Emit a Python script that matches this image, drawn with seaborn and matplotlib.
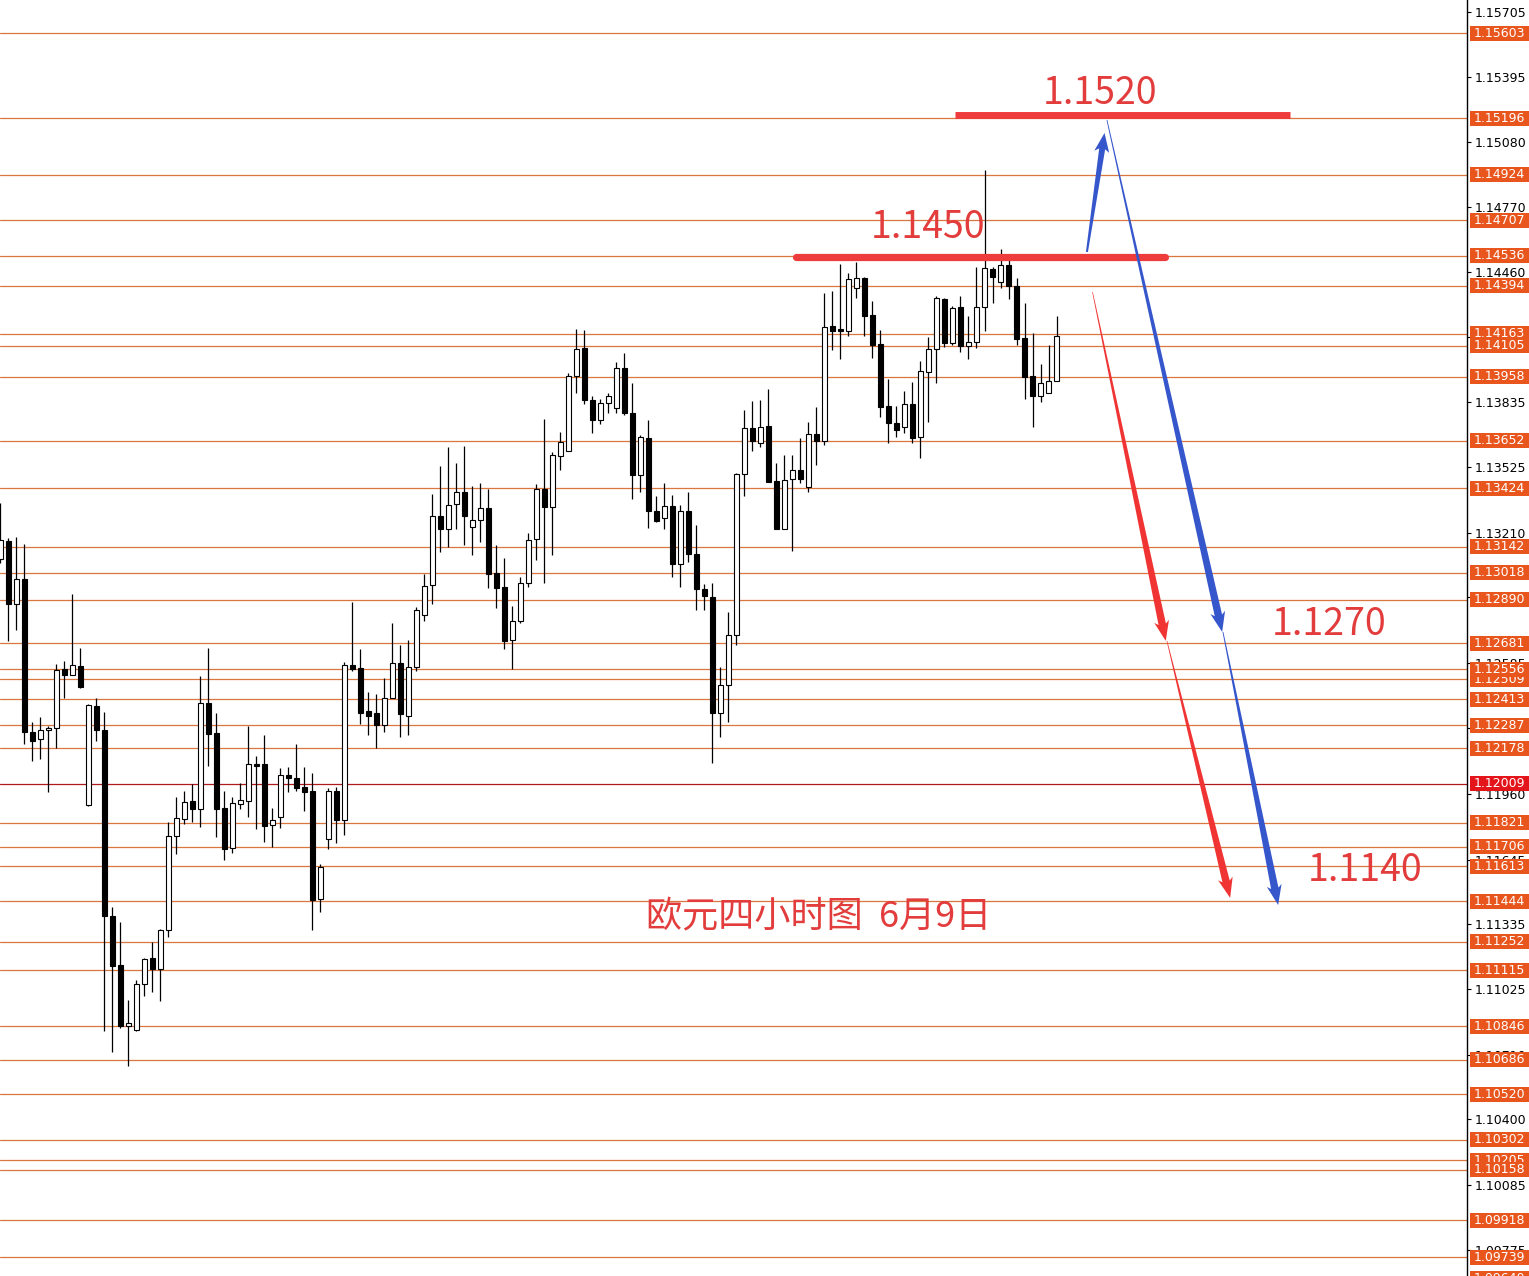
import numpy as np
import matplotlib
matplotlib.use("Agg")
import matplotlib.pyplot as plt
import seaborn as sns
from matplotlib.patches import Rectangle, Polygon
from matplotlib.transforms import blended_transform_factory

# ---------------- data (EUR/USD 4H candles) ----------------
opens = [1.13084, 1.13171, 1.12869, 1.12989, 1.12256, 1.12222, 1.12265, 1.12275, 1.12558, 1.12529,
         1.12572, 1.11906, 1.12380, 1.12265, 1.11374, 1.11139, 1.10847, 1.10828, 1.11049, 1.11173,
         1.11120, 1.11307, 1.11758, 1.11839, 1.11925, 1.11887, 1.12395, 1.12251, 1.11892, 1.11700,
         1.11911, 1.11925, 1.12102, 1.12102, 1.11810, 1.11849, 1.12050, 1.12036, 1.11992, 1.11973,
         1.11456, 1.11743, 1.11973, 1.11834, 1.12577, 1.12562, 1.12356, 1.12347, 1.12289, 1.12419,
         1.12586, 1.12332, 1.12567, 1.12816, 1.12960, 1.13290, 1.13228, 1.13348, 1.13405, 1.13238,
         1.13271, 1.13329, 1.13017, 1.12950, 1.12696, 1.12787, 1.12970, 1.13180, 1.13420, 1.13334,
         1.13578, 1.13602, 1.13961, 1.14095, 1.13846, 1.13750, 1.13832, 1.13808, 1.13999, 1.13784,
         1.13487, 1.13664, 1.13314, 1.13281, 1.13338, 1.13060, 1.13314, 1.13108, 1.12941, 1.12902,
         1.12347, 1.12481, 1.12720, 1.13491, 1.13712, 1.13640, 1.13722, 1.13458, 1.13228, 1.13468,
         1.13511, 1.13429, 1.13683, 1.13650, 1.14200, 1.14181, 1.14177, 1.14383, 1.14430, 1.14253,
         1.14114, 1.13817, 1.13736, 1.13717, 1.13827, 1.13669, 1.13980, 1.14090, 1.14330, 1.14119,
         1.14291, 1.14105, 1.14124, 1.14291, 1.14474, 1.14411, 1.14493, 1.14392, 1.14143, 1.13961,
         1.13865, 1.13880, 1.13937]

highs = [1.13353, 1.13185, 1.13190, 1.13156, 1.12304, 1.12328, 1.12284, 1.12581, 1.12596, 1.12917,
         1.12658, 1.12390, 1.12419, 1.12352, 1.11417, 1.11346, 1.10972, 1.11068, 1.11173, 1.11250,
         1.11312, 1.11825, 1.11944, 1.11973, 1.12007, 1.12524, 1.12658, 1.12347, 1.11973, 1.11944,
         1.12011, 1.12284, 1.12141, 1.12241, 1.11892, 1.12084, 1.12088, 1.12198, 1.12088, 1.12060,
         1.11623, 1.11987, 1.11992, 1.12591, 1.12878, 1.12653, 1.12447, 1.12438, 1.12514, 1.12778,
         1.12673, 1.12696, 1.12855, 1.13012, 1.13396, 1.13530, 1.13621, 1.13544, 1.13626, 1.13434,
         1.13449, 1.13420, 1.13152, 1.13089, 1.12859, 1.12998, 1.13209, 1.13444, 1.13755, 1.13597,
         1.13693, 1.13975, 1.14186, 1.14181, 1.13865, 1.13851, 1.13880, 1.14028, 1.14071, 1.13927,
         1.13679, 1.13750, 1.13386, 1.13449, 1.13391, 1.13343, 1.13405, 1.13247, 1.12965, 1.12970,
         1.12567, 1.12830, 1.13496, 1.13798, 1.13841, 1.13846, 1.13899, 1.13544, 1.13583, 1.13583,
         1.13664, 1.13741, 1.13813, 1.14359, 1.14368, 1.14498, 1.14455, 1.14507, 1.14435, 1.14320,
         1.14181, 1.13946, 1.13817, 1.13889, 1.13932, 1.14033, 1.14148, 1.14344, 1.14335, 1.14296,
         1.14344, 1.14248, 1.14483, 1.14948, 1.14483, 1.14569, 1.14517, 1.14430, 1.14311, 1.14167,
         1.14018, 1.14109, 1.14248]

lows = [1.13065, 1.12692, 1.12744, 1.12198, 1.12117, 1.12126, 1.11968, 1.12179, 1.12419, 1.12529,
        1.12466, 1.11901, 1.12213, 1.10824, 1.10723, 1.10838, 1.10656, 1.10824, 1.10991, 1.11010,
        1.10967, 1.11274, 1.11671, 1.11815, 1.11825, 1.11801, 1.12093, 1.11753, 1.11643, 1.11676,
        1.11887, 1.11849, 1.11791, 1.11729, 1.11705, 1.11796, 1.11968, 1.11973, 1.11877, 1.11307,
        1.11393, 1.11695, 1.11724, 1.11762, 1.12548, 1.12294, 1.12241, 1.12179, 1.12256, 1.12419,
        1.12232, 1.12241, 1.12548, 1.12787, 1.12869, 1.13118, 1.13142, 1.13228, 1.13152, 1.13104,
        1.13166, 1.12946, 1.12850, 1.12653, 1.12558, 1.12778, 1.12950, 1.13079, 1.12970, 1.13104,
        1.13511, 1.13602, 1.13880, 1.13827, 1.13688, 1.13731, 1.13784, 1.13784, 1.13774, 1.13372,
        1.13405, 1.13233, 1.13262, 1.13228, 1.12998, 1.12950, 1.13070, 1.12840, 1.12840, 1.12107,
        1.12232, 1.12304, 1.12673, 1.13386, 1.13602, 1.13621, 1.13453, 1.13228, 1.13228, 1.13123,
        1.13449, 1.13405, 1.13535, 1.13631, 1.14086, 1.14042, 1.14152, 1.14335, 1.14152, 1.14047,
        1.13765, 1.13640, 1.13669, 1.13688, 1.13640, 1.13568, 1.13741, 1.13927, 1.14100, 1.14109,
        1.14076, 1.14042, 1.14095, 1.14177, 1.14311, 1.14383, 1.14330, 1.14109, 1.13851, 1.13717,
        1.13837, 1.13880, 1.13937]

closes = [1.13175, 1.12869, 1.12989, 1.12256, 1.12213, 1.12265, 1.12275, 1.12553, 1.12529, 1.12577,
          1.12471, 1.12385, 1.12265, 1.11374, 1.11135, 1.10847, 1.10862, 1.11049, 1.11168, 1.11120,
          1.11307, 1.11758, 1.11844, 1.11920, 1.11887, 1.12395, 1.12246, 1.11887, 1.11695, 1.11916,
          1.11930, 1.12102, 1.12093, 1.11806, 1.11834, 1.12050, 1.12036, 1.11987, 1.11968, 1.11451,
          1.11609, 1.11973, 1.11834, 1.12577, 1.12558, 1.12347, 1.12332, 1.12289, 1.12419, 1.12586,
          1.12342, 1.12567, 1.12840, 1.12955, 1.13290, 1.13228, 1.13343, 1.13405, 1.13290, 1.13271,
          1.13329, 1.13012, 1.12946, 1.12692, 1.12787, 1.12970, 1.13175, 1.13420, 1.13334, 1.13583,
          1.13645, 1.13961, 1.14090, 1.13846, 1.13750, 1.13832, 1.13865, 1.13999, 1.13784, 1.13487,
          1.13669, 1.13314, 1.13266, 1.13338, 1.13060, 1.13314, 1.13108, 1.12941, 1.12907, 1.12347,
          1.12481, 1.12720, 1.13491, 1.13712, 1.13650, 1.13717, 1.13453, 1.13228, 1.13463, 1.13511,
          1.13468, 1.13683, 1.13650, 1.14196, 1.14177, 1.14177, 1.14426, 1.14430, 1.14248, 1.14109,
          1.13813, 1.13736, 1.13702, 1.13827, 1.13664, 1.13985, 1.14090, 1.14335, 1.14119, 1.14287,
          1.14105, 1.14124, 1.14291, 1.14478, 1.14435, 1.14493, 1.14392, 1.14138, 1.13956, 1.13865,
          1.13927, 1.13937, 1.14152]

# horizontal price levels with orange labels (drawing order)
level_prices = [1.15603, 1.15196, 1.14924, 1.14707, 1.14536, 1.14394, 1.14163, 1.14105, 1.13958,
                1.13652, 1.13424, 1.13142, 1.13018, 1.12890, 1.12681, 1.12509, 1.12556, 1.12413,
                1.12287, 1.12178, 1.12009, 1.11821, 1.11706, 1.11613, 1.11444, 1.11252, 1.11115,
                1.10846, 1.10686, 1.10520, 1.10302, 1.10205, 1.10158, 1.09918, 1.09739, 1.09640]
highlight_level = 1.12009

axis_ticks = [1.15705, 1.15395, 1.15080, 1.14770, 1.14460, 1.14150, 1.13835, 1.13525, 1.13210,
              1.12900, 1.12585, 1.12275, 1.11960, 1.11645, 1.11335, 1.11025, 1.10710, 1.10400,
              1.10085, 1.09775]

# analyst annotations
resistance_levels = [1.1521, 1.1453]
resistance_labels = ["1.1520", "1.1450"]
target_labels = ["1.1270", "1.1140"]
target_prices = [1.1277, 1.1159]
title_text = "欧元四小时图  6月9日"

# ---------------- figure ----------------
sns.set_theme(style="white")
plt.rcParams["font.family"] = ["Noto Sans CJK SC", "DejaVu Sans"]

W, H = 1529, 1276
fig = plt.figure(figsize=(W / 100, H / 100), dpi=100)
fig.patch.set_facecolor("white")
ax = fig.add_axes([0, 0, 1467 / W, 1])
ax.set_facecolor("white")

n = len(opens)
xs = np.arange(n)
ax.set_xlim(-0.0375, 183.3)
ax.set_ylim(1.09650, 1.15762)

# price level lines
for p in level_prices:
    col = "#B01A1A" if p == highlight_level else "#D9773F"
    ax.axhline(p, color=col, lw=0.9, zorder=1)

# candles
body_w = 0.64
ax.vlines(xs, lows, highs, color="black", lw=0.9, zorder=3)
min_h = 1.6 * 0.0000479
for i in range(n):
    o, c = opens[i], closes[i]
    up = c >= o
    bottom = min(o, c)
    h = max(abs(c - o), min_h)
    ax.add_patch(Rectangle((xs[i] - body_w / 2, bottom), body_w, h,
                           facecolor="white" if up else "black",
                           edgecolor="black", lw=0.8, zorder=4))

# right axis
for s in ["left", "top", "bottom"]:
    ax.spines[s].set_visible(False)
ax.spines["right"].set_color("black")
ax.spines["right"].set_linewidth(1.0)
ax.set_xticks([])
ax.yaxis.tick_right()
ax.set_yticks(axis_ticks)
ax.set_yticklabels([f"{t:.5f}" for t in axis_ticks], fontfamily="DejaVu Sans", fontsize=9, color="black")
ax.tick_params(axis="y", direction="out", length=3, width=0.8, color="black", pad=2.8)
ax.grid(False)

# orange price labels on axis
trans = blended_transform_factory(ax.transAxes, ax.transData)
box_h = 15 * 0.0000479
x0_ax = 1469.5 / 1467
x1_ax = 1529 / 1467
for k, p in enumerate(level_prices):
    col = "#E3141A" if p == highlight_level else "#E8561E"
    ax.add_patch(Rectangle((x0_ax, p - box_h / 2), x1_ax - x0_ax, box_h, transform=trans,
                           facecolor=col, edgecolor="none", clip_on=False, zorder=10 + k))
    ax.text(1474 / 1467, p, f"{p:.5f}", transform=trans, ha="left", va="center",
            fontsize=9, color="white", fontfamily="DejaVu Sans", clip_on=False, zorder=10.5 + k)

# resistance lines
red = "#EE3B3B"
ax.plot([119.3, 161.2], [resistance_levels[0]] * 2, color=red, lw=5, solid_capstyle="butt", zorder=6)
ax.plot([99.4, 145.5], [resistance_levels[1]] * 2, color=red, lw=5.2, solid_capstyle="round", zorder=6)

# text annotations
tcol = "#E23C3C"
ax.text(137.5, 1.15312, resistance_labels[0], color=tcol, fontsize=27, ha="center", va="center", zorder=7)
ax.text(116.0, 1.14670, resistance_labels[1], color=tcol, fontsize=27, ha="center", va="center", zorder=7)
ax.text(166.1, target_prices[0], target_labels[0], color=tcol, fontsize=27, ha="center", va="center", zorder=7)
ax.text(170.6, target_prices[1], target_labels[1], color=tcol, fontsize=27, ha="center", va="center", zorder=7)
ax.text(102.3, 1.11370, title_text, color=tcol, fontsize=26, ha="center", va="center", zorder=7)


def tapered_arrow(x0, p0, x1, p1, color, w0, w1, head_w, head_len):
    T = ax.transData
    a = T.transform((x0, p0))
    b = T.transform((x1, p1))
    d = b - a
    L = np.hypot(d[0], d[1])
    u = d / L
    nrm = np.array([-u[1], u[0]])
    s = b - u * head_len
    back = s - u * 3
    pts = [a + nrm * w0 / 2, s + nrm * w1 / 2, back + nrm * head_w / 2, b,
           back - nrm * head_w / 2, s - nrm * w1 / 2, a - nrm * w0 / 2]
    pts = T.inverted().transform(np.array(pts))
    ax.add_patch(Polygon(pts, closed=True, facecolor=color, edgecolor="none", zorder=8))


blue = "#3656CC"
rarrow = "#F03434"
tapered_arrow(135.8, 1.14555, 138.0, 1.15125, blue, 2.0, 6.0, 15, 16)
tapered_arrow(138.3, 1.15187, 152.7, 1.12735, blue, 0.8, 7.5, 15, 17)
tapered_arrow(152.8, 1.12735, 159.7, 1.11427, blue, 0.8, 7.5, 15, 17)
tapered_arrow(136.5, 1.14363, 145.65, 1.12692, rarrow, 0.6, 7.5, 15, 17)
tapered_arrow(145.8, 1.12692, 153.7, 1.11461, rarrow, 0.6, 7.5, 15, 17)

fig.savefig("out.png", dpi=100, facecolor="white")
